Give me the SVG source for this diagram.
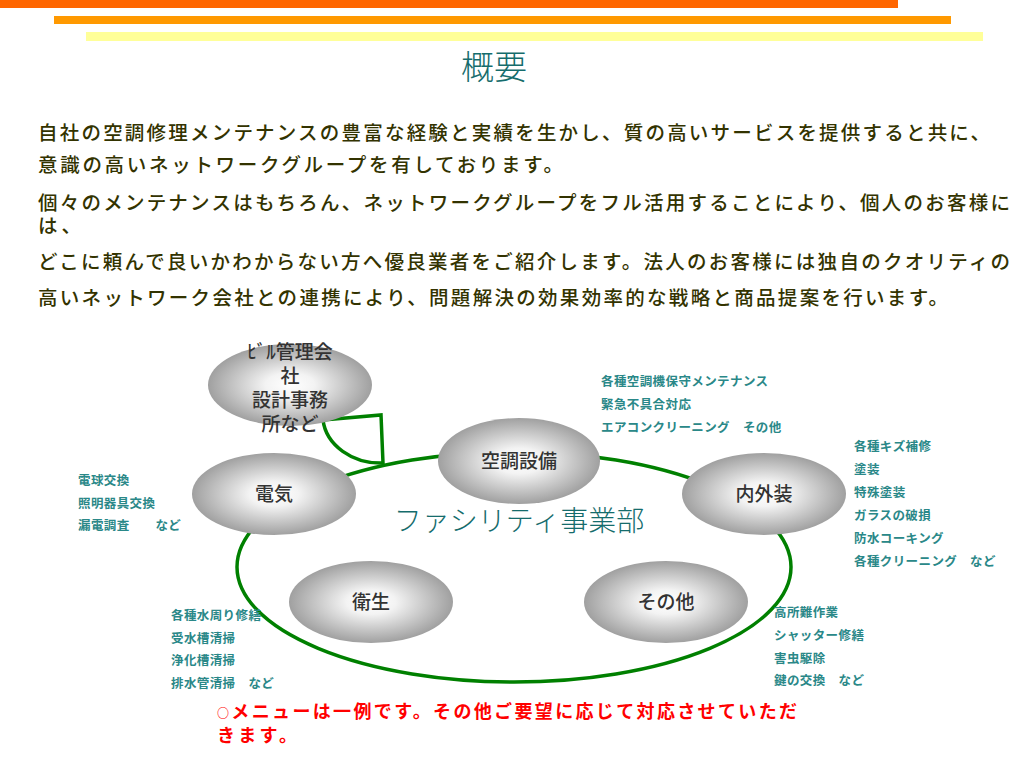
<svg xmlns="http://www.w3.org/2000/svg" width="1024" height="758" viewBox="0 0 1024 758">
<defs>
<radialGradient id="g" cx="50%" cy="50%" r="50%">
<stop offset="0" stop-color="#ffffff"/>
<stop offset="0.3" stop-color="#f3f3f3"/>
<stop offset="1" stop-color="#a0a0a0"/>
</radialGradient>
<style>
.body{font-family:"Noto Sans CJK JP","Noto Sans",sans-serif;font-size:19.5px;font-weight:500;fill:#333300;}
.node{fill:url(#g);}
.nt{font-family:"Noto Sans CJK JP","Noto Sans",sans-serif;font-size:19px;font-weight:500;fill:#333333;text-anchor:middle;}
.note{font-family:"Noto Sans CJK JP","Noto Sans",sans-serif;font-size:12.5px;font-weight:bold;fill:#2a8888;letter-spacing:0.4px;}
.red{font-family:"Noto Sans CJK JP","Noto Sans",sans-serif;font-size:18px;font-weight:bold;fill:#ff0000;}
.green{fill:none;stroke:#008000;stroke-width:3.5;}
</style>
</defs>
<rect width="1024" height="758" fill="#ffffff"/>
<g id="bars">
<rect x="0" y="0" width="898" height="8" fill="#ff6600"/>
<rect x="54" y="16" width="897" height="8" fill="#ff9900"/>
<rect x="86" y="32" width="897" height="9" fill="#ffff99"/>
</g>
<g id="title">
<text x="494" y="79" font-family="'Noto Sans CJK JP',sans-serif" font-size="33" font-weight="300" fill="#156c6c" text-anchor="middle">概要</text>
</g>
<g id="intro">
<text class="body" x="38" y="140" textLength="952" lengthAdjust="spacing">自社の空調修理メンテナンスの豊富な経験と実績を生かし、質の高いサービスを提供すると共に、</text>
<text class="body" x="38" y="172" textLength="525" lengthAdjust="spacing">意識の高いネットワークグループを有しております。</text>
<text class="body"><tspan x="38" y="210" textLength="972" lengthAdjust="spacing">個々のメンテナンスはもちろん、ネットワークグループをフル活用することにより、個人のお客様に</tspan><tspan x="38" y="233" textLength="43" lengthAdjust="spacing">は、</tspan></text>
<text class="body" x="38" y="269" textLength="972" lengthAdjust="spacing">どこに頼んで良いかわからない方へ優良業者をご紹介します。法人のお客様には独自のクオリティの</text>
<text class="body" x="38" y="305" textLength="910" lengthAdjust="spacing">高いネットワーク会社との連携により、問題解決の効果効率的な戦略と商品提案を行います。</text>
</g>
<g id="facility">
<ellipse class="green" cx="514" cy="567" rx="277" ry="115"/>
<text x="519" y="531" font-family="'Noto Sans CJK JP',sans-serif" font-size="28" font-weight="300" fill="#156c6c" text-anchor="middle">ファシリティ事業部</text>
</g>
<g id="connectors">
<path class="green" stroke-width="3" d="M323 420 L381 415 L383 463 A58 48 0 0 1 323 420 Z"/>
</g>
<g id="node-building">
<ellipse class="node" cx="290" cy="385" rx="82" ry="41"/>
<text class="nt"><tspan x="290" y="359">ﾋﾞﾙ管理会</tspan><tspan x="290" y="383">社</tspan><tspan x="290" y="407">設計事務</tspan><tspan x="290" y="431">所など</tspan></text>
</g>
<g id="node-aircon">
<ellipse class="node" cx="519" cy="461" rx="81" ry="43"/>
<text class="nt" x="519" y="468">空調設備</text>
</g>
<g id="node-electric">
<ellipse class="node" cx="274" cy="494" rx="82" ry="41"/>
<text class="nt" x="274" y="501">電気</text>
</g>
<g id="node-interior">
<ellipse class="node" cx="764" cy="494" rx="82" ry="41"/>
<text class="nt" x="764" y="501">内外装</text>
</g>
<g id="node-sanitary">
<ellipse class="node" cx="371" cy="602" rx="82" ry="41"/>
<text class="nt" x="371" y="609">衛生</text>
</g>
<g id="node-other">
<ellipse class="node" cx="666" cy="602" rx="82" ry="41"/>
<text class="nt" x="666" y="609">その他</text>
</g>
<g id="notes">
<text class="note" x="601" y="386">各種空調機保守メンテナンス</text>
<text class="note" x="601" y="409">緊急不具合対応</text>
<text class="note" x="601" y="432">エアコンクリーニング　その他</text>
<text class="note" x="854" y="451">各種キズ補修</text>
<text class="note" x="854" y="474">塗装</text>
<text class="note" x="854" y="497">特殊塗装</text>
<text class="note" x="854" y="520">ガラスの破損</text>
<text class="note" x="854" y="543">防水コーキング</text>
<text class="note" x="854" y="566">各種クリーニング　など</text>
<text class="note" x="78" y="485">電球交換</text>
<text class="note" x="78" y="508">照明器具交換</text>
<text class="note" x="78" y="530">漏電調査　　など</text>
<text class="note" x="171" y="620">各種水周り修繕</text>
<text class="note" x="171" y="643">受水槽清掃</text>
<text class="note" x="171" y="665">浄化槽清掃</text>
<text class="note" x="171" y="688">排水管清掃　など</text>
<text class="note" x="774" y="617">高所難作業</text>
<text class="note" x="774" y="640">シャッター修繕</text>
<text class="note" x="774" y="663">害虫駆除</text>
<text class="note" x="774" y="685">鍵の交換　など</text>
</g>
<g id="footnote">
<text class="red"><tspan x="217" y="718" textLength="580" lengthAdjust="spacing"><tspan font-size="12">○</tspan>メニューは一例です。その他ご要望に応じて対応させていただ</tspan><tspan x="217" y="742" textLength="80" lengthAdjust="spacing">きます。</tspan></text>
</g>
</svg>
